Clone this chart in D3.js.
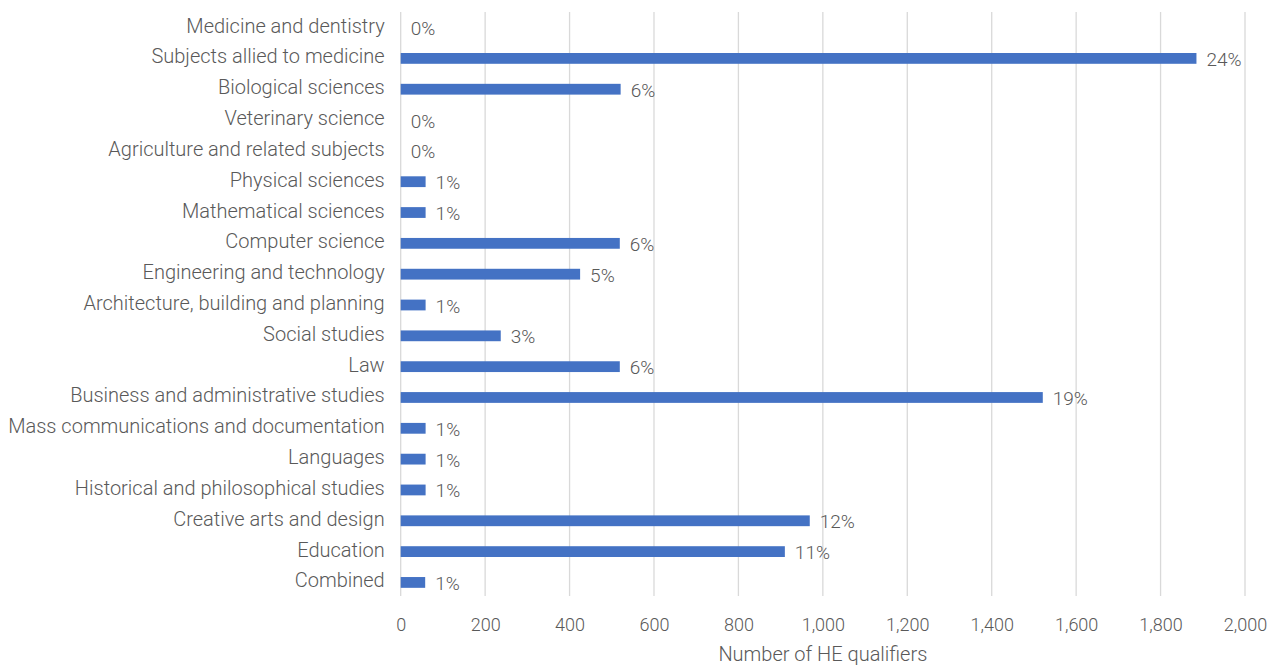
<!DOCTYPE html>
<html>
<head>
<meta charset="utf-8">
<script src="https://cdn.jsdelivr.net/npm/d3@7"></script>
<style>
  body { margin: 0; background: #fff; }
  text { font-family: Roboto, "Noto Sans", sans-serif; font-weight: 300; fill: #595959; }
</style>
</head>
<body>
<script>
// subjects, top to bottom
var subjects = [
  "Medicine and dentistry",
  "Subjects allied to medicine",
  "Biological sciences",
  "Veterinary science",
  "Agriculture and related subjects",
  "Physical sciences",
  "Mathematical sciences",
  "Computer science",
  "Engineering and technology",
  "Architecture, building and planning",
  "Social studies",
  "Law",
  "Business and administrative studies",
  "Mass communications and documentation",
  "Languages",
  "Historical and philosophical studies",
  "Creative arts and design",
  "Education",
  "Combined"
];
var qualifiers = [0, 1885, 521, 0, 0, 59, 59, 519, 425, 59, 237, 519, 1521, 59, 59, 59, 969, 910, 58];
var shares = ["0%", "24%", "6%", "0%", "0%", "1%", "1%", "6%", "5%", "1%", "3%", "6%", "19%", "1%", "1%", "1%", "12%", "11%", "1%"];
var xTicks = [0, 200, 400, 600, 800, 1000, 1200, 1400, 1600, 1800, 2000];
var xTitle = "Number of HE qualifiers";

var width = 1271, height = 666;
var margin = {top: 12, right: 26, bottom: 68, left: 400.7};
var font = "Roboto, 'Noto Sans', sans-serif";

var svg = d3.select("body").append("svg")
  .attr("width", width)
  .attr("height", height);

var x = d3.scaleLinear()
  .domain([0, 2000])
  .range([margin.left, width - margin.right]);

var y = d3.scaleBand()
  .domain(subjects)
  .range([margin.top, height - margin.bottom])
  .paddingInner(0.65)
  .paddingOuter(0.33);

// vertical gridlines
svg.append("g")
  .selectAll("line")
  .data(xTicks)
  .enter()
  .append("line")
  .attr("x1", function(d) { return x(d); })
  .attr("x2", function(d) { return x(d); })
  .attr("y1", margin.top)
  .attr("y2", height - margin.bottom - 2)
  .attr("stroke", "#d9d9d9")
  .attr("stroke-width", 1.3);

// bars
svg.append("g")
  .selectAll("rect")
  .data(qualifiers)
  .enter()
  .append("rect")
  .attr("x", x(0))
  .attr("y", function(d, i) { return y(subjects[i]); })
  .attr("width", function(d) { return x(d) - x(0); })
  .attr("height", y.bandwidth())
  .attr("fill", "#4472c4");

// data labels
svg.append("g")
  .selectAll("text")
  .data(qualifiers)
  .enter()
  .append("text")
  .attr("x", function(d) { return x(d) + 10; })
  .attr("y", function(d, i) { return y(subjects[i]) + y.bandwidth() / 2 + 7.5; })
  .attr("font-size", "19px")
  .text(function(d, i) { return shares[i]; });

// category axis
var yAxis = svg.append("g")
  .attr("transform", "translate(" + (margin.left - 16) + ",0)")
  .call(d3.axisLeft(y).tickSize(0).tickPadding(0));
yAxis.select(".domain").remove();
yAxis.selectAll("text")
  .attr("font-size", "20px")
  .attr("dy", "0.25em")
  .style("font-family", font)
  .attr("fill", "#595959");

// value axis
var xAxis = svg.append("g")
  .attr("transform", "translate(0," + (height - margin.bottom + 4) + ")")
  .call(d3.axisBottom(x).tickValues(xTicks).tickSize(0).tickPadding(16).tickFormat(d3.format(",")));
xAxis.select(".domain").remove();
xAxis.selectAll("text")
  .attr("font-size", "18px")
  .style("font-family", font)
  .attr("fill", "#595959");

svg.append("text")
  .attr("x", (x(0) + x(2000)) / 2)
  .attr("y", height - 5)
  .attr("text-anchor", "middle")
  .attr("font-size", "20px")
  .text(xTitle);
</script>
</body>
</html>
